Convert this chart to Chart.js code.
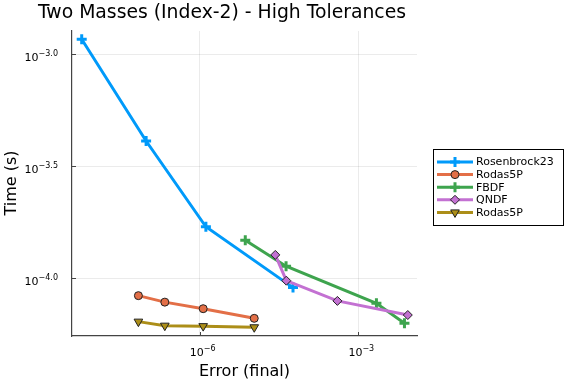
<!DOCTYPE html>
<html><head><meta charset="utf-8">
<script src="https://cdn.jsdelivr.net/npm/chart.js@4/dist/chart.umd.min.js"></script>
<style>html,body{margin:0;padding:0;background:#fff}#wrap{width:576px;height:384px}</style>
</head><body><div id="wrap"><canvas id="c" width="576" height="384"></canvas></div>
<script>
// ---- data ----
const chartTitle = "Two Masses (Index-2) - High Tolerances";
const xLabel = "Error (final)";
const yLabel = "Time (s)";
const seriesNames = ["Rosenbrock23", "Rodas5P", "FBDF", "QNDF", "Rodas5P"];

const rosenErr  = [5.87e-9, 9.70e-8, 1.31e-6, 5.82e-5];
const rosenTime = [1.167e-3, 4.10e-4, 1.698e-4, 9.08e-5];

const rodasErr  = [6.93e-8, 2.19e-7, 1.164e-6, 1.076e-5];
const rodasTime = [8.36e-5, 7.82e-5, 7.31e-5, 6.62e-5];

const fbdfErr   = [7.28e-6, 4.30e-5, 2.20e-3, 7.46e-3];
const fbdfTime  = [1.479e-4, 1.132e-4, 7.73e-5, 6.30e-5];

const qndfErr   = [2.69e-5, 4.35e-5, 4.02e-4, 8.63e-3];
const qndfTime  = [1.271e-4, 9.75e-5, 7.92e-5, 6.85e-5];

const rodas2Err  = [6.93e-8, 2.19e-7, 1.164e-6, 1.076e-5];
const rodas2Time = [6.40e-5, 6.14e-5, 6.11e-5, 6.04e-5];

const xTickValues = [1e-6, 1e-3];
const xTickExps = ["\u22126", "\u22123"];
const yTickValues = [1e-4, Math.pow(10, -3.5), 1e-3];
const yTickExps = ["\u22124.0", "\u22123.5", "\u22123.0"];

// ---- styling ----
const colors = ["#009AFA", "#E36F47", "#3EA44E", "#C371D2", "#AC8E18"];
function pts(xs, ys){ return xs.map((x,i)=>({x:x, y:ys[i]})); }
const seriesData = [pts(rosenErr,rosenTime), pts(rodasErr,rodasTime), pts(fbdfErr,fbdfTime), pts(qndfErr,qndfTime), pts(rodas2Err,rodas2Time)];
const markerCfg = [
  {pointStyle:'cross', radius:5, borderWidth:3, border:null, rotation:0},
  {pointStyle:'circle', radius:4, borderWidth:1, border:'#222', rotation:0},
  {pointStyle:'cross', radius:5, borderWidth:3, border:null, rotation:0},
  {pointStyle:'rectRot', radius:4.5, borderWidth:1, border:'#222', rotation:0},
  {pointStyle:'triangle', radius:5, borderWidth:1, border:'#222', rotation:180},
];

const datasets = seriesData.map((d,i)=>{
  const m = markerCfg[i];
  return {
    label: seriesNames[i], data: d, showLine: true,
    borderColor: colors[i], backgroundColor: colors[i], borderWidth: 3,
    pointStyle: m.pointStyle, pointRadius: m.radius, pointHoverRadius: m.radius,
    pointBorderWidth: m.borderWidth, pointBorderColor: m.border || colors[i],
    pointBackgroundColor: colors[i], pointRotation: m.rotation,
    order: 10 - i, tension: 0
  };
});

const FONT = "'DejaVu Sans', sans-serif";

function drawPow(ctx, base, exp, x, y, align){
  ctx.save();
  ctx.fillStyle = '#000';
  ctx.textBaseline = 'alphabetic';
  ctx.font = "11px " + FONT;
  const wb = ctx.measureText(base).width;
  ctx.font = "8px " + FONT;
  const we = ctx.measureText(exp).width;
  let left = align === 'right' ? x - wb - we : x - (wb + we)/2;
  ctx.font = "11px " + FONT;
  ctx.textAlign = 'left';
  ctx.fillText(base, left, y);
  ctx.font = "8px " + FONT;
  ctx.fillText(exp, left + wb, y - 5);
  ctx.restore();
}

const decor = {
  id: 'decor',
  afterDatasetsDraw(chart){
    const ctx = chart.ctx, xs = chart.scales.x, ys = chart.scales.y, a = chart.chartArea;
    ctx.save();
    ctx.strokeStyle = '#444'; ctx.lineWidth = 1;
    xTickValues.forEach(v=>{ const px = Math.round(xs.getPixelForValue(v))+0.5; ctx.beginPath(); ctx.moveTo(px, a.bottom); ctx.lineTo(px, a.bottom-4); ctx.stroke(); });
    yTickValues.forEach(v=>{ const py = Math.round(ys.getPixelForValue(v))+0.5; ctx.beginPath(); ctx.moveTo(a.left, py); ctx.lineTo(a.left+4, py); ctx.stroke(); });
    ctx.restore();
  },
  afterDraw(chart){
    const ctx = chart.ctx, xs = chart.scales.x, ys = chart.scales.y, a = chart.chartArea;
    xTickValues.forEach((v,i)=>{ drawPow(ctx, "10", xTickExps[i], xs.getPixelForValue(v)+3, a.bottom + 20, 'center'); });
    yTickValues.forEach((v,i)=>{ drawPow(ctx, "10", yTickExps[i], a.left - 14, ys.getPixelForValue(v) + 7, 'right'); });
    ctx.save();
    ctx.fillStyle = '#000';
    ctx.font = "18.8px " + FONT; ctx.textAlign = 'center'; ctx.textBaseline = 'alphabetic';
    ctx.fillText(chartTitle, 222, 17.5);
    ctx.font = "16px " + FONT; ctx.textBaseline = 'middle';
    ctx.fillText(xLabel, (a.left + a.right)/2, 372);
    ctx.save(); ctx.translate(12, 183); ctx.rotate(-Math.PI/2); ctx.fillText(yLabel, 0, 0); ctx.restore();
    const lx = 433.5, ly = 149.5, lw = 130, lh = 76;
    ctx.fillStyle = '#fff'; ctx.fillRect(lx, ly, lw, lh);
    ctx.strokeStyle = '#000'; ctx.lineWidth = 1; ctx.strokeRect(lx, ly, lw, lh);
    chart.data.datasets.forEach((ds,i)=>{
      const y = 162 + i*12.6;
      ctx.strokeStyle = ds.borderColor; ctx.lineWidth = 3;
      ctx.beginPath(); ctx.moveTo(437, y); ctx.lineTo(473, y); ctx.stroke();
      ctx.fillStyle = ds.pointBackgroundColor; ctx.strokeStyle = ds.pointBorderColor; ctx.lineWidth = ds.pointBorderWidth;
      Chart.helpers.drawPoint(ctx, {pointStyle: ds.pointStyle, rotation: ds.pointRotation, radius: ds.pointRadius, borderWidth: ds.pointBorderWidth}, 455, y);
      ctx.fillStyle = '#000'; ctx.font = "11px " + FONT; ctx.textAlign = 'left'; ctx.textBaseline = 'middle';
      ctx.fillText(ds.label, 476, y + 0.5);
    });
    ctx.restore();
  }
};

new Chart(document.getElementById('c'), {
  type: 'scatter',
  data: { datasets },
  options: {
    responsive: false, animation: false, devicePixelRatio: 1,
    layout: { padding: { left: 72, top: 31, right: 159, bottom: 48 } },
    plugins: { legend: {display:false}, title: {display:false}, tooltip: {enabled:false} },
    scales: {
      x: {
        type: 'logarithmic', min: Math.pow(10,-8.415), max: Math.pow(10,-1.89),
        afterBuildTicks: s => { s.ticks = xTickValues.map(v=>({value:v})); },
        ticks: { display: false },
        grid: { color: 'rgba(0,0,0,0.08)', lineWidth: 1, drawTicks: false },
        border: { display: true, color: '#444', width: 1.2 },
        title: { display: false }
      },
      y: {
        type: 'logarithmic', min: Math.pow(10,-4.258), max: Math.pow(10,-2.896),
        afterBuildTicks: s => { s.ticks = yTickValues.map(v=>({value:v})); },
        ticks: { display: false },
        grid: { color: 'rgba(0,0,0,0.08)', lineWidth: 1, drawTicks: false },
        border: { display: true, color: '#444', width: 1.2 },
        title: { display: false }
      }
    }
  },
  plugins: [decor]
});
</script></body></html>
